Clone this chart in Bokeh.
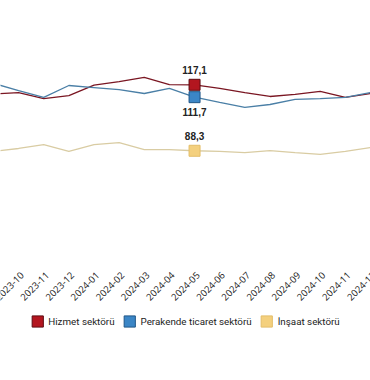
import math
from bokeh.plotting import figure
from bokeh.layouts import column
from bokeh.models import ColumnDataSource, Range1d, FixedTicker, Legend, LegendItem
from bokeh.core.properties import value
from bokeh.embed import file_html
from bokeh.resources import INLINE

months = ["2023-09", "2023-10", "2023-11", "2023-12", "2024-01", "2024-02", "2024-03",
          "2024-04", "2024-05", "2024-06", "2024-07", "2024-08", "2024-09", "2024-10",
          "2024-11", "2024-12"]
hizmet = [113.1, 113.7, 111.1, 112.4, 117.0, 118.5, 120.3, 117.2, 117.1, 115.5, 113.7,
          112.0, 112.9, 114.2, 111.6, 113.3]
perakende = [117.7, 114.6, 111.6, 116.8, 115.9, 115.0, 113.3, 115.5, 111.7, 109.4, 107.2,
             108.5, 110.7, 111.1, 111.6, 113.7]
insaat = [88.0, 89.3, 91.0, 88.0, 91.0, 91.9, 88.8, 88.8, 88.3, 88.0, 87.5, 88.4, 87.5,
          86.7, 88.0, 89.7]
series_names = ["Hizmet sektörü", "Perakende ticaret sektörü", "İnşaat sektörü"]
highlight = "2024-05"

line_colors = ["#7a1622", "#4a7fa6", "#d9cca3"]
fill_colors = ["#b3161f", "#3b86c6", "#f4d07e"]
edge_colors = ["#5e0a10", "#1f5687", "#e3bd68"]

xs = list(range(len(months)))
hi = months.index(highlight)

xr = Range1d(0.28, 15.0)

p = figure(frame_width=370, frame_height=260, output_backend="svg", toolbar_location=None,
           x_range=xr, y_range=Range1d(40.4, 153.9),
           min_border_left=0, min_border_right=0, min_border_top=0, min_border_bottom=0,
           outline_line_color=None, background_fill_color="white")

p.xgrid.visible = False
p.ygrid.visible = False
p.yaxis.visible = False

ax = p.xaxis[0]
ax.ticker = FixedTicker(ticks=[])
ax.axis_line_color = "#d8d8d8"
ax.major_tick_line_color = None
ax.minor_tick_line_color = None
ax.major_label_standoff = 0

all_series = [hizmet, perakende, insaat]
for k, vals in enumerate(all_series):
    src = ColumnDataSource(dict(x=xs, y=vals))
    p.line("x", "y", source=src, line_color=line_colors[k], line_width=1.3)
    p.scatter(x=[xs[hi]], y=[vals[hi]], marker="square", size=11,
              fill_color=fill_colors[k], line_color=edge_colors[k], line_width=1)

offsets = [-11, 11, -11]
baselines = ["bottom", "top", "bottom"]
for k, vals in enumerate(all_series):
    txt = f"{vals[hi]:.1f}".replace(".", ",")
    p.text(x=[xs[hi]], y=[vals[hi]], text=[txt], y_offset=offsets[k],
           text_align="center", text_baseline=baselines[k],
           text_font=value("Liberation Sans"), text_font_size="10px",
           text_font_style="bold", text_color="#222222")

# rotated month labels in a strip sharing the x range
tk = figure(frame_width=370, height=41, output_backend="svg", toolbar_location=None,
            x_range=xr, y_range=Range1d(0, 1),
            min_border_left=0, min_border_right=0, min_border_top=0, min_border_bottom=0,
            outline_line_color=None)
tk.axis.visible = False
tk.grid.visible = False
tk.text(x=xs, y=[1] * len(xs), text=months, angle=math.pi / 4,
        x_offset=3.5, y_offset=13, text_align="right", text_baseline="middle",
        text_font=value("Open Sans"), text_font_size="9.5px", text_color="#222222")

# legend in its own strip below the chart
lg = figure(width=370, height=40, output_backend="svg", toolbar_location=None,
            x_range=Range1d(0, 1), y_range=Range1d(0, 1),
            min_border_left=0, min_border_right=0, min_border_top=0, min_border_bottom=0,
            outline_line_color=None)
lg.axis.visible = False
lg.grid.visible = False
items = []
for k, name in enumerate(series_names):
    dummy = lg.quad(left=[float("nan")], right=[float("nan")], top=[float("nan")],
                    bottom=[float("nan")], fill_color=fill_colors[k],
                    line_color=edge_colors[k], line_width=1)
    items.append(LegendItem(label=name, renderers=[dummy]))
legend = Legend(items=items, orientation="horizontal", location="center",
                glyph_width=14, glyph_height=14, label_standoff=4, spacing=8,
                label_text_font="Roboto", label_text_font_size="9.8px",
                label_text_color="#222222", border_line_color=None,
                background_fill_alpha=0, padding=4, margin=0)
lg.add_layout(legend, "center")

layout = column(p, tk, lg, spacing=0)
open("out.html", "w").write(file_html(layout, INLINE))
